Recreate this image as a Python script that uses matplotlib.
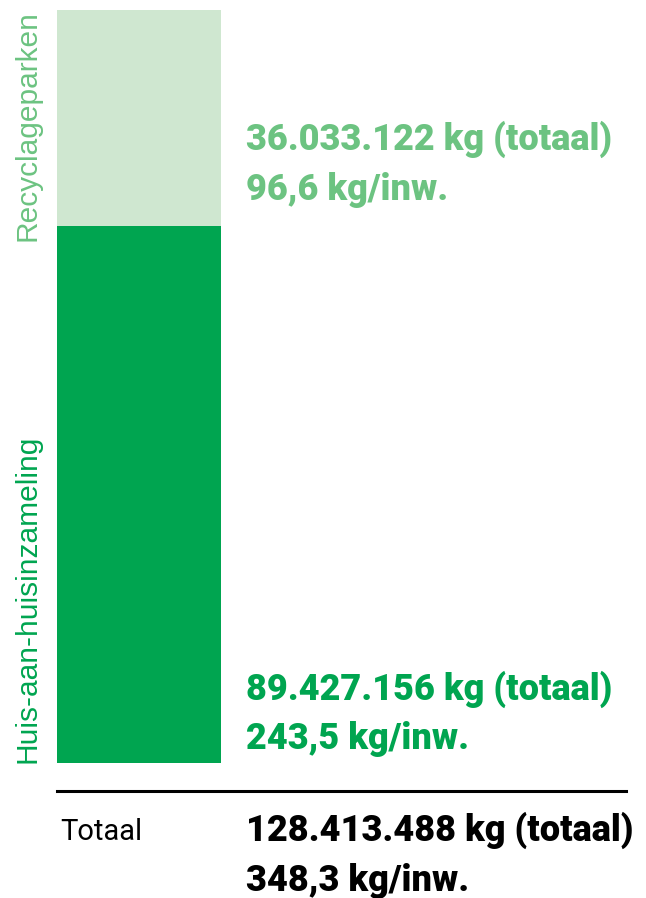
import matplotlib.pyplot as plt

# data
segments = ["Huis-aan-huisinzameling", "Recyclageparken"]
totals_kg = [89427156, 36033122]
per_inw = ["243,5", "96,6"]
total_label = ["128.413.488 kg (totaal)", "348,3 kg/inw."]
seg_labels = [["89.427.156 kg (totaal)", "243,5 kg/inw."],
              ["36.033.122 kg (totaal)", "96,6 kg/inw."]]

bar_colors = ["#00a550", "#cfe7d0"]
text_colors = ["#00a550", "#6cc381"]

W, H = 646, 898
fig = plt.figure(figsize=(W / 100, H / 100), dpi=100)

def px(x, y):
    # pixel coords (top-left origin) -> figure fraction
    return x / W, 1 - y / H

# bar axes: x 57..221 px, y 10..763 px
ax = fig.add_axes([57 / W, (H - 763) / H, 164 / W, 753 / H])
bottom = 0
for val, col in zip(totals_kg, bar_colors):
    ax.bar(0, val, width=1.0, bottom=bottom, color=col, linewidth=0)
    bottom += val
ax.set_xlim(-0.5, 0.5)
ax.set_ylim(0, bottom)
ax.axis("off")

bold = dict(family="Roboto", weight="black", fontsize=26)

# value labels next to each segment
fig.text(*px(246, 150), seg_labels[1][0], color=text_colors[1], va="baseline", **bold)
fig.text(*px(246, 200), seg_labels[1][1], color=text_colors[1], va="baseline", **bold)
fig.text(*px(246, 700), seg_labels[0][0], color=text_colors[0], va="baseline", **bold)
fig.text(*px(246, 749), seg_labels[0][1], color=text_colors[0], va="baseline", **bold)

# rotated category labels
fig.text(*px(13, 10), segments[1], rotation=90, ha="left", va="top",
         color=text_colors[1], family="Liberation Sans", fontsize=21.5)
fig.text(*px(13, 763), segments[0], rotation=90, ha="left", va="bottom",
         color=text_colors[0], family="Liberation Sans", fontsize=21.5)

# separator line
fig.add_artist(plt.Line2D([57 / W, 626 / W], [1 - 791 / H] * 2, color="black",
                          linewidth=2.2, transform=fig.transFigure))

# totals
fig.text(*px(60, 840), "Totaal", color="black", va="baseline",
         family="Roboto", fontsize=21)
fig.text(*px(246, 841), total_label[0], color="black", va="baseline", **bold)
fig.text(*px(246, 891), total_label[1], color="black", va="baseline", **bold)

fig.savefig("out.png", dpi=100)
